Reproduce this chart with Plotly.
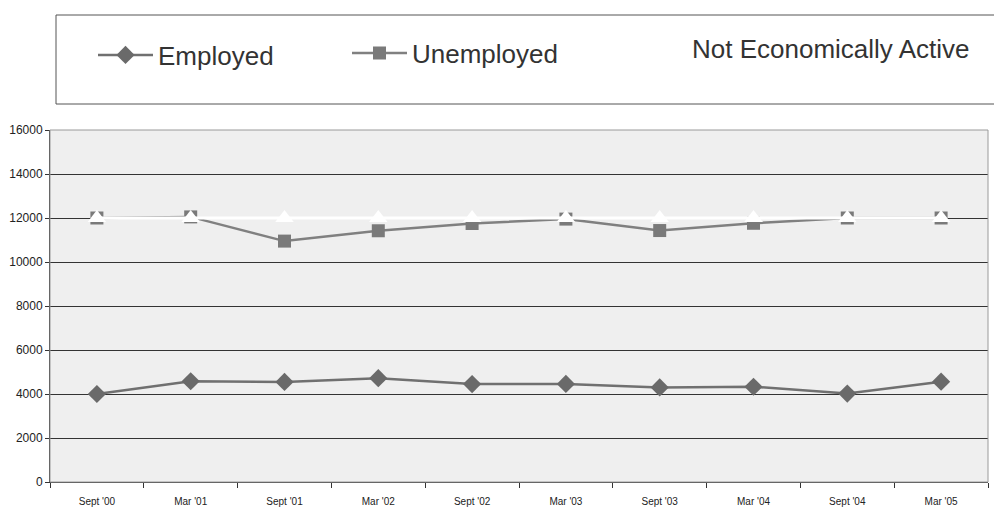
import plotly.graph_objects as go

categories = ["Sept '00", "Mar '01", "Sept '01", "Mar '02", "Sept '02",
              "Mar '03", "Sept '03", "Mar '04", "Sept '04", "Mar '05"]
employed = [4000, 4580, 4550, 4720, 4450, 4460, 4300, 4330, 4020, 4560]
unemployed = [12000, 12050, 10950, 11420, 11750, 11950, 11430, 11760, 12000, 12000]
not_active = [12000, 12000, 12000, 12000, 12000, 12000, 12000, 12000, 12000, 12000]
y_ticks = [0, 2000, 4000, 6000, 8000, 10000, 12000, 14000, 16000]

FONT = "Liberation Sans, Arial, sans-serif"
W, H = 994, 509
ML, MR, MT, MB = 50, 6, 130, 27
PW, PH = W - ML - MR, H - MT - MB

def px(x):
    return (x - ML) / PW

def py(y):
    return (H - MB - y) / PH

fig = go.Figure()
fig.add_trace(go.Scatter(
    x=categories, y=employed, name="Employed", mode="lines+markers",
    line=dict(color="#707070", width=2.5),
    marker=dict(symbol="diamond", size=14, color="#6a6a6a", line=dict(width=0)),
    legend="legend"))
fig.add_trace(go.Scatter(
    x=categories, y=unemployed, name="Unemployed", mode="lines+markers",
    line=dict(color="#808080", width=2.5),
    marker=dict(symbol="square", size=13, color="#7a7a7a", line=dict(width=0)),
    legend="legend2"))
fig.add_trace(go.Scatter(
    x=categories, y=not_active, name="Not Economically Active", mode="lines+markers",
    line=dict(color="#ffffff", width=3),
    marker=dict(symbol="triangle-up", size=16, color="#ffffff", line=dict(width=0)),
    legend="legend3"))

leg_common = dict(orientation="h", yanchor="middle", xanchor="left",
                  bgcolor="rgba(0,0,0,0)", borderwidth=0,
                  font=dict(family=FONT, size=26, color="#333333"),
                  itemwidth=55)
fig.update_layout(
    width=W, height=H,
    margin=dict(l=ML, r=MR, t=MT, b=MB, autoexpand=False),
    paper_bgcolor="#ffffff",
    plot_bgcolor="#efefef",
    showlegend=True,
    legend=dict(x=px(93), y=py(55), **leg_common),
    legend2=dict(x=px(347), y=py(53), **leg_common),
    legend3=dict(x=px(627), y=py(48), **leg_common),
    xaxis=dict(
        type="category", range=[-0.5, 9.5],
        showgrid=False, showline=True, linecolor="#333333", linewidth=1,
        ticks="outside", tickson="boundaries", ticklen=5, tickcolor="#333333",
        tickfont=dict(family=FONT, size=10, color="#222222"),
        ticklabelstandoff=10, mirror=False, zeroline=False),
    yaxis=dict(
        range=[0, 16000], tickvals=y_ticks, tickformat="d",
        showgrid=True, gridcolor="#333333", gridwidth=1,
        showline=True, linecolor="#333333", linewidth=1,
        ticks="outside", ticklen=4, tickcolor="#333333",
        tickfont=dict(family=FONT, size=12, color="#222222"),
        zeroline=False),
)
# plot area border (top/right)
fig.add_shape(type="rect", xref="paper", yref="paper", x0=0, x1=1, y0=0, y1=1,
              line=dict(color="#9a9a9a", width=1), fillcolor="rgba(0,0,0,0)", layer="above")
# legend frame
fig.add_shape(type="rect", xref="paper", yref="paper",
              x0=px(56), x1=px(1000), y0=py(104), y1=py(15),
              line=dict(color="#555555", width=1), fillcolor="rgba(0,0,0,0)")

fig.write_html("out.html", config={"displayModeBar": False},
               post_script="document.body.style.margin='0';document.body.style.overflow='hidden';")
